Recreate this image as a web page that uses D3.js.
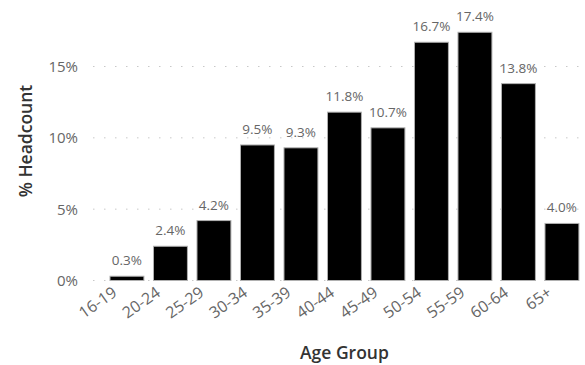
<!DOCTYPE html>
<html>
<head>
<meta charset="utf-8">
<script src="https://cdn.jsdelivr.net/npm/d3@7"></script>
<style>
  html, body { margin: 0; padding: 0; background: #fff; }
  svg { display: block; font-family: "Open Sans", "Noto Sans", sans-serif; }
</style>
</head>
<body>
<svg id="chart" width="585" height="365"></svg>
<script>
// Share of headcount by age group
const ageGroups = ["16-19", "20-24", "25-29", "30-34", "35-39", "40-44", "45-49", "50-54", "55-59", "60-64", "65+"];
const headcountPct = [0.3, 2.4, 4.2, 9.5, 9.3, 11.8, 10.7, 16.7, 17.4, 13.8, 4.0];
const yTicks = [0, 5, 10, 15];

const svg = d3.select("#chart");

const x = d3.scaleBand()
  .domain(ageGroups)
  .range([105.2, 583.7])
  .paddingInner(0.22)
  .paddingOuter(0.11);

const y = d3.scaleLinear()
  .domain([0, 15])
  .range([280.5, 66.5]);

// dotted gridlines
svg.append("g")
  .selectAll("line")
  .data(yTicks)
  .join("line")
  .attr("x1", 93)
  .attr("x2", 585)
  .attr("y1", d => y(d))
  .attr("y2", d => y(d))
  .attr("stroke", "#c8c8c8")
  .attr("stroke-width", 1)
  .attr("stroke-dasharray", "1.5,9.5");

// y axis tick labels
svg.append("g")
  .selectAll("text")
  .data(yTicks)
  .join("text")
  .attr("x", 78)
  .attr("y", d => y(d))
  .attr("dy", "0.36em")
  .attr("text-anchor", "end")
  .attr("font-size", 15)
  .attr("fill", "#666")
  .text(d => d + "%");

// bars
svg.append("g")
  .selectAll("rect")
  .data(ageGroups)
  .join("rect")
  .attr("x", d => x(d))
  .attr("width", x.bandwidth())
  .attr("y", (d, i) => y(headcountPct[i]))
  .attr("height", (d, i) => y(0) - y(headcountPct[i]))
  .attr("fill", "#000")
  .attr("stroke", "#b0b0b0")
  .attr("stroke-width", 1);

// value labels
svg.append("g")
  .selectAll("text")
  .data(ageGroups)
  .join("text")
  .attr("x", d => x(d) + x.bandwidth() / 2)
  .attr("y", (d, i) => y(headcountPct[i]) - 11)
  .attr("text-anchor", "middle")
  .attr("font-size", 13.5)
  .attr("fill", "#666")
  .text((d, i) => headcountPct[i].toFixed(1) + "%");

// rotated category labels
svg.append("g")
  .selectAll("text")
  .data(ageGroups)
  .join("text")
  .attr("transform", d => `translate(${x(d) + x.bandwidth() / 2 - 9},${295}) rotate(-35)`)
  .attr("text-anchor", "end")
  .attr("font-size", 16)
  .attr("fill", "#666")
  .text(d => d);

// axis titles
svg.append("text")
  .attr("x", x.range()[0] / 2 + x.range()[1] / 2)
  .attr("y", 359)
  .attr("text-anchor", "middle")
  .attr("font-size", 17.5)
  .attr("font-weight", 600)
  .attr("fill", "#333")
  .text("Age Group");

svg.append("text")
  .attr("transform", "translate(31.5,141) rotate(-90)")
  .attr("text-anchor", "middle")
  .attr("font-size", 17.5)
  .attr("font-weight", 600)
  .attr("fill", "#333")
  .text("% Headcount");
</script>
</body>
</html>
